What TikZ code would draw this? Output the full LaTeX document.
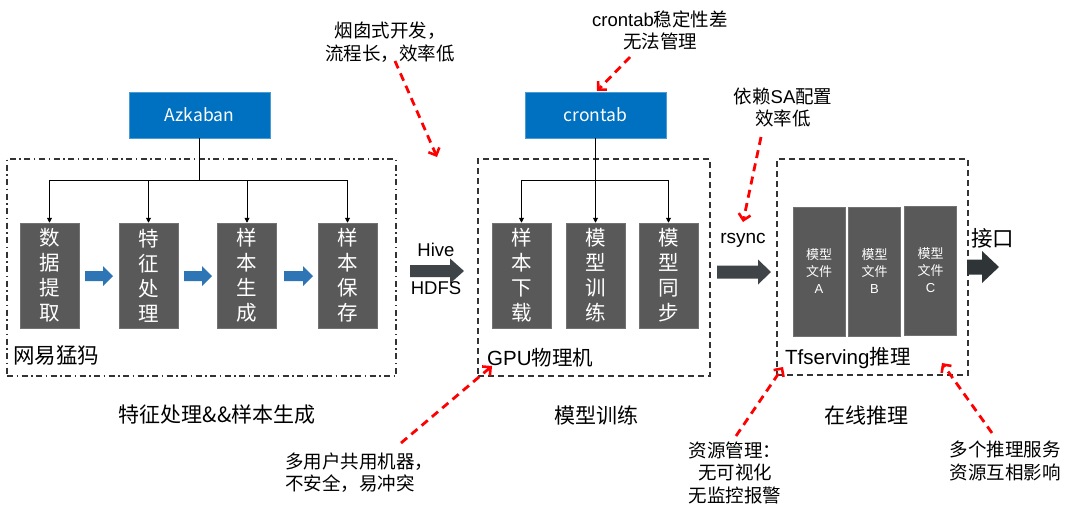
\documentclass[tikz,border=0pt]{standalone}
\usepackage{fontspec}
\setmainfont{Noto Sans CJK SC}
\newfontfamily\latinf{Liberation Sans}
\usetikzlibrary{arrows.meta}
\definecolor{azblue}{HTML}{0070C0}
\definecolor{boxgray}{HTML}{595959}
\definecolor{flowblue}{HTML}{2E75B6}
\definecolor{darkarr}{HTML}{3F4448}
\definecolor{darkarrB}{HTML}{2F3437}
\newcommand\fatarr[7]{\fill[#7] (#1,#4-#5) -- (#3,#4-#5) -- (#3,#4-#6) -- (#2,#4) -- (#3,#4+#6) -- (#3,#4+#5) -- (#1,#4+#5) -- cycle;}
\begin{document}
\begin{tikzpicture}[x=1pt,y=-1pt,
  topbox/.style={fill=azblue, draw=azblue!70!white, line width=0.6pt, minimum width=141pt, minimum height=46pt, inner sep=0pt, text=white, font=\fontsize{17.5}{20}\selectfont},
  stepbox/.style={fill=boxgray, draw=boxgray!85!white, line width=0.5pt, minimum width=59pt, minimum height=105pt, inner sep=0pt, text=white, align=center, font=\fontsize{20.5}{25}\selectfont},
  filebox/.style={fill=boxgray, draw=boxgray!85!white, line width=0.5pt, minimum width=52pt, minimum height=129pt, inner sep=0pt, text=white, align=center, font=\fontsize{13}{17}\selectfont},
  dashdotbox/.style={draw=black!80, line width=1.4pt, dash pattern=on 6pt off 3.5pt on 1.5pt off 3.5pt, inner sep=0pt},
  dashbox/.style={draw=black!80, line width=1.4pt, dash pattern=on 6pt off 4pt, inner sep=0pt},
  conn/.style={draw=black, line width=0.9pt, -{Triangle[length=5pt,width=5pt]}},
  note/.style={font=\fontsize{18.5}{22.5}\selectfont, align=center, inner sep=0pt},
  label/.style={font=\fontsize{20.5}{24}\selectfont, inner sep=0pt, anchor=west},
  title/.style={font=\fontsize{21}{25}\selectfont, inner sep=0pt},
  redarrow/.style={draw=red, line width=2.8pt, dash pattern=on 8pt off 5.5pt, -{Straight Barb[length=6pt,width=12pt,line width=2.6pt]}}
]
\useasboundingbox[fill=white] (0,0) rectangle (1080,520);

% group containers
\node[dashdotbox, minimum width=389pt, minimum height=217pt] (g1) at (201.5,267.5) {};
\node[dashbox, minimum width=232pt, minimum height=217pt] (g2) at (594,267.5) {};
\node[dashbox, minimum width=191pt, minimum height=216pt] (g3) at (872.5,267) {};

% schedulers
\node[topbox] (az) at (199.5,115) {Azkaban};
\node[topbox] (cr) at (595.5,115) {crontab};

% feature pipeline boxes
\node[stepbox] (b1) at (49.5,275.5) {数\\据\\提\\取};
\node[stepbox] (b2) at (148.5,275.5) {特\\征\\处\\理};
\node[stepbox] (b3) at (247,275.5) {样\\本\\生\\成};
\node[stepbox] (b4) at (347.5,275.5) {样\\本\\保\\存};

% training boxes
\node[stepbox] (t1) at (521.5,275.5) {样\\本\\下\\载};
\node[stepbox] (t2) at (595.5,275.5) {模\\型\\训\\练};
\node[stepbox] (t3) at (668.5,275.5) {模\\型\\同\\步};

% model files
\node[filebox] (fa) at (819,271.5) {模型\\文件\\{\latinf A}};
\node[filebox] (fb) at (874.5,271.5) {模型\\文件\\{\latinf B}};
\node[filebox] (fc) at (930.5,270.5) {模型\\文件\\{\latinf C}};

% scheduler connectors
\coordinate (azj) at (199.5,180);
\draw[line width=0.9pt] (az.south) -- (azj);
\draw[conn] (azj) -| (b1.north);
\draw[conn] (azj) -| (b2.north);
\draw[conn] (azj) -| (b3.north);
\draw[conn] (azj) -| (b4.north);
\coordinate (crj) at (595.5,180);
\draw[conn] (cr.south) -- (t2.north);
\draw[conn] (crj) -| (t1.north);
\draw[conn] (crj) -| (t3.north);

% blue flow arrows
\fatarr{85}{113}{103}{276}{5}{10}{flowblue}
\fatarr{184}{212}{202}{276}{5}{10}{flowblue}
\fatarr{284}{313}{303}{276}{5}{10}{flowblue}

% big dark arrows
\fatarr{410}{464}{450}{271}{6}{12.5}{darkarr}
\fatarr{717}{771}{758}{272}{6.5}{12.5}{darkarr}
\fatarr{967}{999}{982}{267}{7.5}{16}{darkarrB}

% arrow labels
\node[font=\latinf\fontsize{18.5}{22}\selectfont, inner sep=0pt] (hive) at (436,250) {Hive};
\node[font=\latinf\fontsize{18.5}{22}\selectfont, inner sep=0pt] (hdfs) at (436,288) {HDFS};
\node[font=\latinf\fontsize{19}{22}\selectfont, inner sep=0pt] (rsync) at (743,240) {rsync};
\node[font=\fontsize{21.5}{25}\selectfont, inner sep=0pt] (api) at (992.5,238) {接口};

% group labels
\node[label, font=\fontsize{21.5}{25}\selectfont] (l1) at (13,355) {网易猛犸};
\node[label] (l2) at (487,358) {{\latinf GPU}物理机};
\node[label] (l3) at (785,358) {{\latinf Tfserving}推理};

% stage titles
\node[title] (s1) at (217,415) {特征处理\&\&样本生成};
\node[title] (s2) at (596,415) {模型训练};
\node[title] (s3) at (866,415) {在线推理};

% notes
\node[note] (n1) at (390,42) {烟囱式开发，\\流程长，效率低};
\node[note] (n2) at (660,30.5) {{\latinf crontab}稳定性差\\无法管理};
\node[note] (n3) at (783,107.5) {依赖{\latinf SA}配置\\效率低};
\node[note, align=left, anchor=west] (n4) at (285,472.5) {多用户共用机器，\\不安全，易冲突};
\node[note] (n5) at (735,472.5) {资源管理：\\无可视化\\无监控报警};
\node[note] (n6) at (1005,461) {多个推理服务\\资源互相影响};

% red annotation arrows
\coordinate (r1s) at (395,61);  \coordinate (r1e) at (437,157);
\coordinate (r2s) at (630,57);  \coordinate (r2e) at (597,91);
\coordinate (r3s) at (761,137); \coordinate (r3e) at (743,222);
\coordinate (r4s) at (401,443); \coordinate (r4e) at (492,366);
\coordinate (r5s) at (736,436); \coordinate (r5e) at (783,367);
\coordinate (r6s) at (992,433); \coordinate (r6e) at (942,363);
\draw[redarrow] (r1s) -- (r1e);
\draw[redarrow] (r2s) -- (r2e);
\draw[redarrow] (r3s) -- (r3e);
\draw[redarrow] (r4s) -- (r4e);
\draw[redarrow] (r5s) -- (r5e);
\draw[redarrow] (r6s) -- (r6e);
\end{tikzpicture}
\end{document}
